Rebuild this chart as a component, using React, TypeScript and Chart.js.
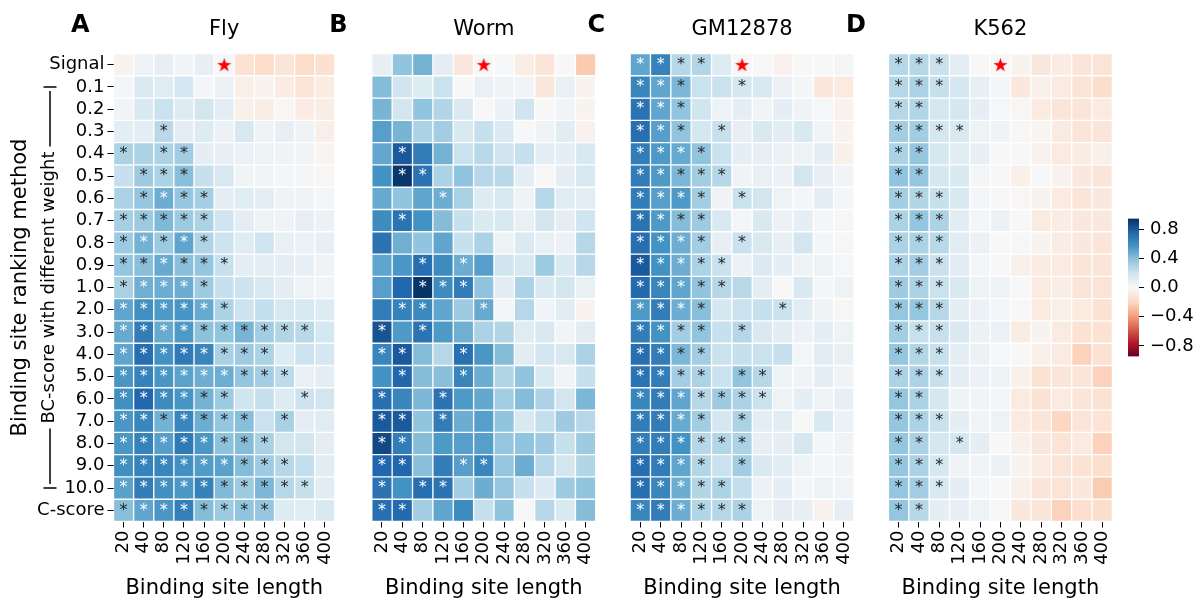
import React, { useEffect, useRef } from 'react';
import { Chart, registerables } from 'chart.js';

Chart.register(...registerables);

const FONT = "'DejaVu Sans', 'Noto Sans', sans-serif";
Chart.defaults.font.family = FONT;

// ---------------- data ----------------
const COLS = ['20', '40', '80', '120', '160', '200', '240', '280', '320', '360', '400'];
const ROWS = ['Signal', '0.1', '0.2', '0.3', '0.4', '0.5', '0.6', '0.7', '0.8', '0.9',
  '1.0', '2.0', '3.0', '4.0', '5.0', '6.0', '7.0', '8.0', '9.0', '10.0', 'C-score'];
const STAR_ROW = 'Signal';
const STAR_COL = '200';
const VMAX = 0.945;
const CBAR_TICKS = [-0.8, -0.4, 0, 0.4, 0.8];
const RDBU = ['#67001f', '#b2182b', '#d6604d', '#f4a582', '#fddbc7', '#f7f7f7',
  '#d1e5f0', '#92c5de', '#4393c3', '#2166ac', '#053061'];

const FLY_VALUES = [
  [-0.03, 0.04, 0.08, 0.03, 0.08, 0.01, -0.14, -0.18, -0.12, -0.18, -0.15],
  [0.02, 0.14, 0.12, 0.17, 0.02, 0.06, -0.06, -0.03, -0.08, -0.13, -0.08],
  [0.03, 0.15, 0.21, 0.13, 0.18, 0.1, -0.05, -0.07, -0.01, -0.08, -0.07],
  [0.1, 0.1, 0.26, 0.1, 0.13, 0.06, 0.16, 0.04, 0.08, 0.04, -0.06],
  [0.3, 0.3, 0.3, 0.33, 0.09, 0.08, 0.06, 0.05, 0.04, 0.03, -0.02],
  [0.22, 0.34, 0.3, 0.4, 0.22, 0.16, 0.03, 0.03, 0.02, 0.02, -0.01],
  [0.3, 0.37, 0.47, 0.37, 0.32, 0.1, 0.12, 0.1, 0.04, 0.04, 0.02],
  [0.32, 0.35, 0.42, 0.35, 0.3, 0.19, 0.1, 0.05, 0.04, 0.08, 0.06],
  [0.35, 0.45, 0.35, 0.5, 0.29, 0.2, 0.12, 0.19, 0.07, 0.06, 0.08],
  [0.37, 0.4, 0.48, 0.4, 0.37, 0.22, 0.1, 0.1, 0.1, 0.08, 0.04],
  [0.31, 0.46, 0.47, 0.47, 0.34, 0.22, 0.2, 0.16, 0.1, 0.05, 0.03],
  [0.5, 0.58, 0.54, 0.56, 0.48, 0.3, 0.2, 0.23, 0.16, 0.15, 0.13],
  [0.48, 0.66, 0.48, 0.54, 0.39, 0.38, 0.44, 0.33, 0.28, 0.26, 0.17],
  [0.5, 0.72, 0.57, 0.67, 0.62, 0.31, 0.34, 0.3, 0.13, 0.2, 0.17],
  [0.55, 0.64, 0.55, 0.51, 0.47, 0.47, 0.37, 0.33, 0.25, 0.07, 0.1],
  [0.58, 0.75, 0.6, 0.56, 0.45, 0.35, 0.19, 0.22, 0.13, 0.2, 0.18],
  [0.55, 0.62, 0.45, 0.62, 0.47, 0.37, 0.4, 0.21, 0.31, 0.1, 0.12],
  [0.55, 0.64, 0.52, 0.67, 0.55, 0.39, 0.41, 0.31, 0.18, 0.18, 0.1],
  [0.58, 0.64, 0.62, 0.58, 0.53, 0.51, 0.41, 0.34, 0.27, 0.23, 0.11],
  [0.51, 0.66, 0.58, 0.55, 0.64, 0.42, 0.35, 0.43, 0.27, 0.22, 0.11],
  [0.4, 0.5, 0.55, 0.65, 0.41, 0.34, 0.38, 0.37, 0.13, 0.12, 0.15],
];
// '.' = not significant, 'k' = dark asterisk, 'w' = white asterisk
const FLY_SIG = [
  '...........', '...........', '...........', '..k........', 'k.kk.......',
  '.kkk.......', '.kwkk......', 'kkkkk......', 'kwkwk......', 'kkwkkk.....',
  'kwwwk......', 'wwwwwk.....', 'wwwwkkkkkk.', 'wwwwwkkk...', 'wwwwwwkkk..',
  'wwwwkk...k.', 'wwkwkkk.k..', 'wwwwwkkk...', 'wwwwwwkkk..', 'wwwwwkkkkk.',
  'kwwwkkkk...',
];

const WORM_VALUES = [
  [0.08, 0.38, 0.45, 0.1, -0.1, 0.0, 0.01, -0.07, -0.12, 0.0, -0.25],
  [0.41, 0.19, 0.13, 0.21, 0.0, 0.07, 0.04, 0.03, -0.11, 0.07, -0.03],
  [0.44, 0.18, 0.38, 0.28, 0.14, 0.0, 0.06, 0.19, 0.0, 0.03, -0.03],
  [0.52, 0.44, 0.3, 0.33, 0.15, 0.22, 0.14, 0.0, 0.04, 0.11, -0.04],
  [0.49, 0.8, 0.66, 0.45, 0.21, 0.26, 0.19, 0.22, 0.09, 0.09, 0.15],
  [0.57, 0.92, 0.7, 0.3, 0.38, 0.27, 0.26, 0.09, 0.0, 0.1, 0.16],
  [0.48, 0.38, 0.5, 0.47, 0.31, 0.13, 0.15, 0.04, 0.27, 0.12, 0.1],
  [0.6, 0.7, 0.57, 0.41, 0.22, 0.14, 0.16, 0.07, 0.18, 0.1, 0.19],
  [0.7, 0.46, 0.38, 0.5, 0.22, 0.3, 0.05, 0.14, 0.07, 0.06, 0.27],
  [0.5, 0.55, 0.72, 0.6, 0.47, 0.52, 0.19, 0.16, 0.35, 0.15, 0.27],
  [0.52, 0.75, 0.93, 0.6, 0.66, 0.38, 0.11, 0.3, 0.15, 0.18, 0.07],
  [0.66, 0.64, 0.61, 0.5, 0.34, 0.48, 0.02, 0.27, 0.03, 0.11, -0.03],
  [0.82, 0.54, 0.7, 0.54, 0.46, 0.3, 0.28, 0.12, 0.15, 0.03, 0.11],
  [0.62, 0.8, 0.41, 0.27, 0.71, 0.55, 0.41, 0.11, 0.18, 0.16, 0.3],
  [0.57, 0.75, 0.41, 0.4, 0.63, 0.47, 0.28, 0.38, 0.15, 0.03, 0.22],
  [0.72, 0.62, 0.43, 0.7, 0.54, 0.49, 0.33, 0.41, 0.3, 0.18, 0.43],
  [0.8, 0.8, 0.38, 0.66, 0.47, 0.52, 0.38, 0.15, 0.23, 0.34, 0.27],
  [0.86, 0.66, 0.41, 0.54, 0.52, 0.52, 0.37, 0.38, 0.34, 0.22, 0.34],
  [0.75, 0.75, 0.4, 0.66, 0.52, 0.62, 0.37, 0.47, 0.27, 0.18, 0.28],
  [0.7, 0.57, 0.72, 0.7, 0.33, 0.47, 0.37, 0.22, 0.14, 0.34, 0.38],
  [0.72, 0.74, 0.33, 0.5, 0.6, 0.22, 0.38, 0.0, 0.27, 0.15, 0.41],
];
const WORM_SIG = [
  '...........', '...........', '...........', '...........', '.w.........',
  '.ww........', '...w.......', '.w.........', '...........', '..w.w......',
  '..www......', '.ww..w.....', 'w.w........', 'ww..w......', '.w..w......',
  'w..w.......', 'ww.w.......', 'ww.........', 'ww..ww.....', 'w.ww.......',
  'ww.........',
];

const GM_VALUES = [
  [0.5, 0.64, 0.27, 0.28, 0.13, 0.0, 0.0, -0.04, 0.0, 0.0, 0.02],
  [0.62, 0.5, 0.43, 0.21, 0.21, 0.17, 0.15, 0.06, 0.02, -0.1, -0.09],
  [0.7, 0.5, 0.38, 0.19, 0.05, 0.09, 0.03, 0.09, 0.04, 0.01, -0.04],
  [0.72, 0.52, 0.38, 0.17, 0.22, 0.08, 0.15, 0.11, 0.15, 0.03, -0.03],
  [0.66, 0.54, 0.48, 0.38, 0.21, 0.09, 0.08, 0.06, 0.05, 0.09, -0.05],
  [0.66, 0.54, 0.43, 0.33, 0.27, 0.04, 0.07, 0.06, 0.18, 0.08, 0.03],
  [0.66, 0.52, 0.54, 0.33, 0.04, 0.21, 0.18, 0.05, 0.02, 0.09, 0.02],
  [0.7, 0.54, 0.41, 0.34, 0.15, 0.02, 0.15, 0.06, 0.09, 0.02, -0.01],
  [0.72, 0.57, 0.47, 0.33, 0.08, 0.21, 0.15, 0.08, 0.18, 0.02, -0.01],
  [0.8, 0.57, 0.47, 0.3, 0.21, 0.06, 0.14, 0.09, 0.05, 0.05, 0.01],
  [0.74, 0.63, 0.5, 0.38, 0.27, 0.26, 0.1, 0.0, 0.15, 0.02, 0.05],
  [0.54, 0.66, 0.47, 0.4, 0.17, 0.21, 0.22, 0.21, 0.11, 0.04, -0.01],
  [0.66, 0.57, 0.33, 0.38, 0.22, 0.27, 0.15, 0.11, 0.06, 0.09, 0.05],
  [0.72, 0.66, 0.43, 0.33, 0.21, 0.22, 0.21, 0.22, 0.02, 0.11, 0.07],
  [0.7, 0.66, 0.33, 0.3, 0.21, 0.38, 0.27, 0.05, 0.04, 0.09, 0.04],
  [0.62, 0.66, 0.5, 0.27, 0.34, 0.3, 0.21, 0.05, 0.09, 0.04, 0.08],
  [0.66, 0.66, 0.48, 0.33, 0.17, 0.3, 0.1, 0.11, 0.0, 0.15, 0.06],
  [0.66, 0.66, 0.57, 0.27, 0.28, 0.3, 0.08, 0.09, 0.17, 0.02, 0.04],
  [0.72, 0.66, 0.5, 0.28, 0.21, 0.33, 0.15, 0.11, 0.05, 0.02, 0.03],
  [0.72, 0.62, 0.47, 0.28, 0.3, 0.23, 0.06, 0.09, 0.02, 0.05, 0.03],
  [0.62, 0.66, 0.47, 0.28, 0.27, 0.3, 0.05, 0.1, 0.08, -0.04, 0.08],
];
const GM_SIG = [
  'wwkk.......', 'wwk..k.....', 'wwk........', 'wwk.k......', 'wwwk.......',
  'wwkkk......', 'wwwk.k.....', 'wwkk.......', 'wwwk.k.....', 'wwwkk......',
  'wwwkk......', 'wwwk...k...', 'wwkk.k.....', 'wwkk.......', 'wwkk.kk....',
  'wwwkkkk....', 'wwwk.k.....', 'wwwkkk.....', 'wwwk.k.....', 'wwwkk......',
  'wwwkkk.....',
];

const K562_VALUES = [
  [0.27, 0.27, 0.21, 0.09, 0.0, 0.0, -0.03, -0.1, -0.08, -0.12, -0.13],
  [0.27, 0.3, 0.22, 0.17, 0.08, 0.02, -0.1, -0.05, -0.09, -0.13, -0.17],
  [0.27, 0.28, 0.17, 0.17, 0.09, 0.01, -0.01, -0.09, -0.12, -0.12, -0.09],
  [0.33, 0.33, 0.17, 0.15, 0.05, 0.04, -0.01, -0.02, -0.09, -0.12, -0.12],
  [0.3, 0.37, 0.17, 0.11, 0.08, 0.0, 0.0, -0.04, -0.09, -0.08, -0.05],
  [0.38, 0.37, 0.17, 0.15, 0.02, 0.0, -0.05, 0.0, -0.04, -0.1, -0.12],
  [0.33, 0.28, 0.22, 0.15, 0.02, 0.0, -0.01, -0.03, -0.09, -0.12, -0.1],
  [0.3, 0.37, 0.3, 0.11, 0.02, 0.06, 0.0, -0.09, -0.08, -0.1, -0.1],
  [0.3, 0.3, 0.26, 0.11, 0.06, 0.0, 0.01, -0.03, -0.08, -0.1, -0.12],
  [0.3, 0.33, 0.21, 0.11, 0.02, 0.0, -0.05, -0.08, -0.09, -0.12, -0.12],
  [0.34, 0.3, 0.21, 0.15, 0.04, 0.05, 0.0, -0.09, -0.07, -0.12, -0.13],
  [0.37, 0.37, 0.27, 0.09, 0.06, 0.02, 0.0, -0.09, -0.06, -0.09, -0.14],
  [0.33, 0.22, 0.22, 0.15, 0.06, 0.06, -0.08, -0.03, -0.09, -0.14, -0.14],
  [0.37, 0.28, 0.22, 0.09, 0.06, 0.01, 0.0, -0.05, -0.09, -0.22, -0.14],
  [0.3, 0.3, 0.22, 0.1, 0.06, 0.05, -0.05, -0.14, -0.12, -0.12, -0.22],
  [0.37, 0.3, 0.17, 0.04, 0.03, 0.02, -0.09, -0.14, -0.09, -0.12, -0.14],
  [0.37, 0.3, 0.21, 0.09, 0.03, 0.05, -0.09, -0.12, -0.2, -0.12, -0.13],
  [0.37, 0.3, 0.17, 0.17, 0.09, 0.0, -0.05, -0.1, -0.13, -0.09, -0.22],
  [0.37, 0.3, 0.17, 0.04, 0.03, 0.06, -0.03, -0.09, -0.13, -0.14, -0.16],
  [0.37, 0.33, 0.15, 0.09, 0.02, 0.0, -0.05, -0.12, -0.13, -0.1, -0.24],
  [0.37, 0.27, 0.09, 0.08, 0.05, 0.0, -0.1, -0.12, -0.22, -0.16, -0.17],
];
const K562_SIG = [
  'kkk........', 'kkk........', 'kk.........', 'kkkk.......', 'kk.........',
  'kk.........', 'kkk........', 'kkk........', 'kkk........', 'kkk........',
  'kkk........', 'kkk........', 'kkk........', 'kkk........', 'kkk........',
  'kk.........', 'kkk........', 'kk.k.......', 'kkk........', 'kkk........',
  'kk.........',
];

const PANEL_LETTERS = ['A', 'B', 'C', 'D'];
const PANEL_TITLES = ['Fly', 'Worm', 'GM12878', 'K562'];
const PANEL_VALUES = [FLY_VALUES, WORM_VALUES, GM_VALUES, K562_VALUES];
const PANEL_SIG = [FLY_SIG, WORM_SIG, GM_SIG, K562_SIG];

const X_TITLE = 'Binding site length';
const Y_TITLE = 'Binding site ranking method';
const BRACKET_TITLE = 'BC-score with different weight';
const BRACKET_FROM = '0.1';
const BRACKET_TO = '10.0';

// ---------------- layout ----------------
const H = 602;
const AREA_TOP = 53.5;
const AREA_BOTTOM = 521.5;
const AREA_W = 224;
const AREA_X0 = 113.5;
const AREA_STEP = 258.3;

function geom(i: number) {
  const areaLeft = AREA_X0 + AREA_STEP * i;
  if (i === 0) {
    const width = 350;
    return { left: 0, width, padLeft: 0, padRight: width - areaLeft - AREA_W };
  }
  const left = Math.floor(areaLeft) - 50;
  const width = 295;
  const padLeft = areaLeft - left;
  return { left, width, padLeft, padRight: width - padLeft - AREA_W };
}

// ---------------- colour ----------------
function hexToRgb(h: string) {
  return [parseInt(h.slice(1, 3), 16), parseInt(h.slice(3, 5), 16), parseInt(h.slice(5, 7), 16)];
}
const RDBU_RGB = RDBU.map(hexToRgb);
function cellColor(v: number) {
  let t = (v + VMAX) / (2 * VMAX);
  t = Math.max(0, Math.min(1, t));
  const p = t * 10;
  const i = Math.min(9, Math.floor(p));
  const f = p - i;
  const a = RDBU_RGB[i];
  const b = RDBU_RGB[i + 1];
  const c = a.map((x, k) => Math.round(x + (b[k] - x) * f));
  return `rgb(${c[0]},${c[1]},${c[2]})`;
}

function makeStar() {
  const c = document.createElement('canvas');
  c.width = 17;
  c.height = 17;
  const ctx = c.getContext('2d')!;
  const cx = 8.5, cy = 9.2, R = 7.4, r = 2.9;
  ctx.beginPath();
  for (let k = 0; k < 10; k++) {
    const ang = -Math.PI / 2 + (k * Math.PI) / 5;
    const rad = k % 2 === 0 ? R : r;
    const x = cx + rad * Math.cos(ang);
    const y = cy + rad * Math.sin(ang);
    if (k === 0) ctx.moveTo(x, y); else ctx.lineTo(x, y);
  }
  ctx.closePath();
  ctx.fillStyle = '#ff0000';
  ctx.fill();
  return c;
}

function overlayPlugin(i: number) {
  return {
    id: 'heatOverlay' + i,
    afterDatasetsDraw(chart: any) {
      const { ctx } = chart;
      const xs = chart.scales.x;
      const ys = chart.scales.y;
      const sig = PANEL_SIG[i];
      ctx.save();
      ctx.font = `16px ${FONT}`;
      ctx.textAlign = 'center';
      ctx.textBaseline = 'middle';
      sig.forEach((row: string, r: number) => {
        for (let c = 0; c < row.length; c++) {
          const ch = row[c];
          if (ch === '.') continue;
          ctx.fillStyle = ch === 'w' ? '#ffffff' : '#262626';
          ctx.fillText('*', xs.getPixelForValue(c), ys.getPixelForValue(r));
        }
      });
      ctx.restore();
    },
    afterDraw(chart: any) {
      const { ctx, chartArea } = chart;
      const ys = chart.scales.y;
      ctx.save();
      ctx.fillStyle = '#000';
      ctx.textBaseline = 'alphabetic';
      ctx.textAlign = 'center';
      ctx.font = `21px ${FONT}`;
      ctx.fillText(PANEL_TITLES[i], (chartArea.left + chartArea.right) / 2, 35);
      ctx.textAlign = 'left';
      ctx.font = `bold 24px ${FONT}`;
      ctx.fillText(PANEL_LETTERS[i], chartArea.left - 42.5, 32);
      if (i === 0) {
        const yTop = ys.getPixelForValue(ROWS.indexOf(BRACKET_FROM));
        const yBot = ys.getPixelForValue(ROWS.indexOf(BRACKET_TO));
        const mid = (yTop + yBot) / 2;
        const xl = 50;
        ctx.font = `18px ${FONT}`;
        const w = ctx.measureText(BRACKET_TITLE).width;
        ctx.strokeStyle = '#000';
        ctx.lineWidth = 1.5;
        ctx.beginPath();
        ctx.moveTo(xl - 6.5, yTop); ctx.lineTo(xl + 6.5, yTop);
        ctx.moveTo(xl, yTop + 4); ctx.lineTo(xl, mid - w / 2 - 5);
        ctx.moveTo(xl, mid + w / 2 + 5); ctx.lineTo(xl, yBot - 4);
        ctx.moveTo(xl - 6.5, yBot); ctx.lineTo(xl + 6.5, yBot);
        ctx.stroke();
        ctx.translate(49, mid);
        ctx.rotate(-Math.PI / 2);
        ctx.textAlign = 'center';
        ctx.textBaseline = 'middle';
        ctx.fillText(BRACKET_TITLE, 0, 0);
      }
      ctx.restore();
    },
  };
}

function panelConfig(i: number, star: HTMLCanvasElement) {
  const g = geom(i);
  const values = PANEL_VALUES[i];
  const datasets: any[] = ROWS.map((row, r) => ({
    type: 'bar',
    label: row,
    data: COLS.map(() => [r - 0.5, r + 0.5]),
    backgroundColor: values[r].map(cellColor),
    borderColor: '#ffffff',
    borderWidth: 1,
    borderSkipped: false,
    grouped: false,
    barPercentage: 1,
    categoryPercentage: 1,
    order: 1,
  }));
  datasets.push({
    type: 'scatter',
    label: 'selected',
    data: [{ x: STAR_COL, y: ROWS.indexOf(STAR_ROW) }],
    pointStyle: star,
    pointRadius: 8,
    order: 0,
  });
  const tickFont = { family: FONT, size: 18 };
  return {
    type: 'bar',
    data: { labels: COLS, datasets },
    plugins: [overlayPlugin(i)],
    options: {
      animation: false,
      responsive: false,
      events: [],
      layout: { padding: { left: g.padLeft, right: g.padRight, top: AREA_TOP, bottom: 0 } },
      plugins: { legend: { display: false }, tooltip: { enabled: false }, title: { display: false } },
      scales: {
        x: {
          type: 'category',
          offset: true,
          border: { display: false },
          grid: { display: true, drawOnChartArea: false, drawTicks: true, tickLength: 6, offset: false, color: '#000', lineWidth: 1 },
          ticks: { autoSkip: false, minRotation: 90, maxRotation: 90, font: tickFont, color: '#000', padding: 3 },
          title: { display: true, text: X_TITLE, font: { family: FONT, size: 21 }, color: '#000', padding: { top: 0, bottom: 1 } },
          afterFit: (s: any) => { s.height = H - AREA_BOTTOM; },
        },
        y: {
          type: 'linear',
          min: -0.5,
          max: ROWS.length - 0.5,
          reverse: true,
          display: i === 0,
          border: { display: false },
          grid: { display: true, drawOnChartArea: false, drawTicks: true, tickLength: 6, color: '#000', lineWidth: 1 },
          afterBuildTicks: (s: any) => { s.ticks = ROWS.map((_, r) => ({ value: r })); },
          ticks: { autoSkip: false, font: tickFont, color: '#000', padding: 3, callback: (v: any) => ROWS[v] },
          title: { display: true, text: Y_TITLE, font: { family: FONT, size: 21 }, color: '#000', padding: { top: 7.5, bottom: 0 } },
          afterFit: i === 0 ? (s: any) => { s.width = AREA_X0; } : undefined,
        },
      },
    },
  };
}

function fmtTick(v: number) {
  const s = Math.abs(v).toFixed(1);
  return v < -1e-9 ? '\u2212' + s : s;
}

function colorbarConfig() {
  return {
    type: 'bar',
    data: {
      labels: [''],
      datasets: [{
        data: [[-VMAX, VMAX]],
        backgroundColor: (c: any) => {
          const a = c.chart.chartArea;
          if (!a) return RDBU[5];
          const grad = c.chart.ctx.createLinearGradient(0, a.bottom, 0, a.top);
          RDBU.forEach((col, k) => grad.addColorStop(k / 10, col));
          return grad;
        },
        borderWidth: 0,
        barPercentage: 1,
        categoryPercentage: 1,
      }],
    },
    options: {
      animation: false,
      responsive: false,
      events: [],
      layout: { padding: { left: 18, right: 0, top: 218.5, bottom: H - 356.5 } },
      plugins: { legend: { display: false }, tooltip: { enabled: false } },
      scales: {
        x: { display: false },
        y: {
          position: 'right',
          min: -VMAX,
          max: VMAX,
          border: { display: false },
          grid: { drawOnChartArea: false, drawTicks: true, tickLength: 5, color: '#000' },
          afterBuildTicks: (s: any) => { s.ticks = CBAR_TICKS.map((v) => ({ value: v })); },
          ticks: { font: { family: FONT, size: 18 }, color: '#000', padding: 6, callback: (v: any) => fmtTick(Number(v)) },
          afterFit: (s: any) => { s.width = 62; },
        },
      },
    },
  };
}

export default function App() {
  const refs = useRef<(HTMLCanvasElement | null)[]>([]);
  const cbRef = useRef<HTMLCanvasElement | null>(null);

  useEffect(() => {
    const star = makeStar();
    const charts: Chart[] = [];
    PANEL_TITLES.forEach((_, i) => {
      const el = refs.current[i];
      if (el) charts.push(new Chart(el, panelConfig(i, star) as any));
    });
    if (cbRef.current) charts.push(new Chart(cbRef.current, colorbarConfig() as any));
    return () => charts.forEach((c) => c.destroy());
  }, []);

  return (
    <div style={{ position: 'fixed', left: 0, top: 0, width: 1201, height: H, background: '#fff', overflow: 'hidden' }}>
      {PANEL_TITLES.map((t, i) => {
        const g = geom(i);
        return (
          <canvas
            key={t}
            ref={(el) => { refs.current[i] = el; }}
            width={g.width}
            height={H}
            style={{ position: 'absolute', left: g.left, top: 0, width: g.width, height: H }}
          />
        );
      })}
      <canvas
        ref={cbRef}
        width={91}
        height={H}
        style={{ position: 'absolute', left: 1110, top: 0, width: 91, height: H }}
      />
    </div>
  );
}
